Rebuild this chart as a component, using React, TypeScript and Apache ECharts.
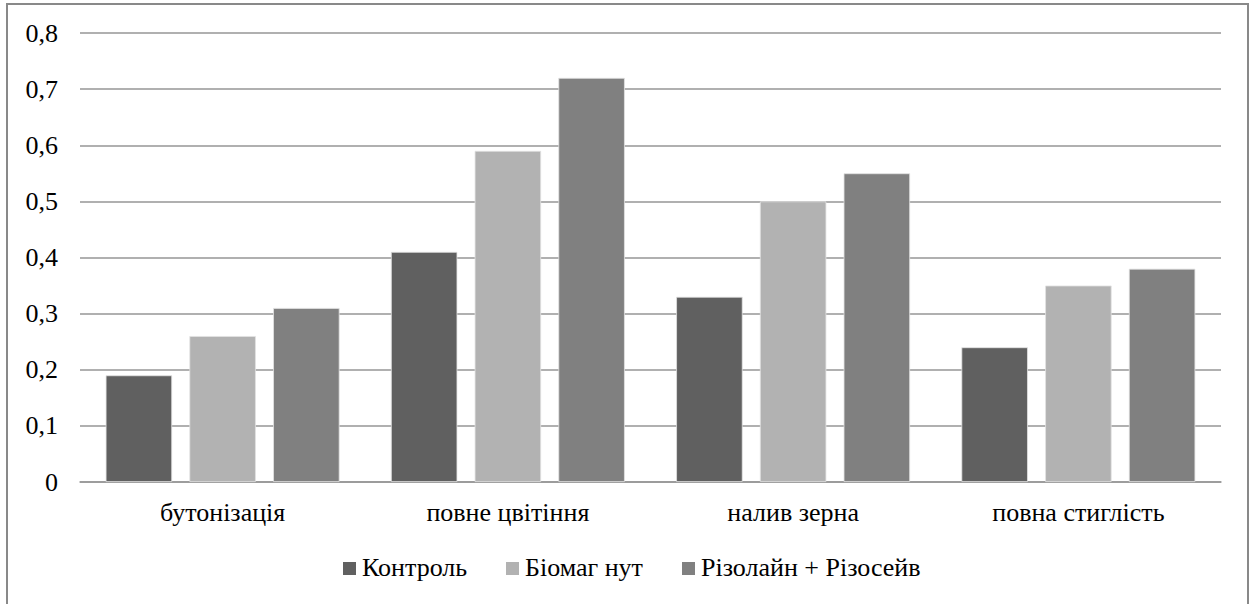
import React, { useEffect, useRef } from "react";
import * as echarts from "echarts";

const categories = ["бутонізація", "повне цвітіння", "налив зерна", "повна стиглість"];
const seriesNames = ["Контроль", "Біомаг нут", "Різолайн + Різосейв"];
const control = [0.19, 0.41, 0.33, 0.24];
const biomag = [0.26, 0.59, 0.5, 0.35];
const rizolain = [0.31, 0.72, 0.55, 0.38];
const yTicks = [0, 0.1, 0.2, 0.3, 0.4, 0.5, 0.6, 0.7, 0.8];
const yTickLabels = ["0", "0,1", "0,2", "0,3", "0,4", "0,5", "0,6", "0,7", "0,8"];
const colors = ["#606060", "#b2b2b2", "#808080"];

const FONT_CSS = "26px Liberation Serif";
const legendSquareX = [343, 506, 682];

const CSS_FIX =
  "body{margin:0} #root svg text, #root svg tspan { font-family: 'Liberation Serif', 'Times New Roman', serif !important; }";

export default function App() {
  const ref = useRef<HTMLDivElement>(null);
  useEffect(() => {
    document.body.style.margin = "0";
    const chart = echarts.init(ref.current!, null, { renderer: "svg" });
    const data = [control, biomag, rizolain];
    chart.setOption({
      animation: false,
      backgroundColor: "#ffffff",
      grid: { left: 80, right: 33, top: 33, bottom: 122, containLabel: false },
      xAxis: {
        type: "category",
        data: categories,
        axisTick: { show: false },
        axisLine: { lineStyle: { color: "#969696", width: 1.5 } },
        axisLabel: { show: false },
      },
      yAxis: {
        type: "value",
        min: 0,
        max: 0.8,
        interval: 0.1,
        axisLine: { show: false },
        axisTick: { show: false },
        splitLine: { lineStyle: { color: "#969696", width: 1.5 } },
        axisLabel: { show: false },
      },
      series: seriesNames.map((name, i) => ({
        name,
        type: "bar",
        data: data[i],
        barGap: "26%",
        barCategoryGap: "18%",
        itemStyle: { color: colors[i], borderColor: "#e2e2e2", borderWidth: 0.8 },
      })),
    });

    const graphics: any[] = [
      {
        type: "rect",
        shape: { x: 7, y: 4, width: 1241, height: 640 },
        style: { fill: "none", stroke: "#898989", lineWidth: 2 },
        silent: true,
        z: 0,
      },
    ];
    yTicks.forEach((v, i) => {
      const y = chart.convertToPixel({ yAxisIndex: 0 }, v) as number;
      graphics.push({
        type: "text",
        x: 58,
        y,
        style: {
          text: yTickLabels[i],
          font: FONT_CSS,
          fill: "#000",
          align: "right",
          verticalAlign: "middle",
        },
      });
    });
    categories.forEach((c, i) => {
      const x = chart.convertToPixel({ xAxisIndex: 0 }, i) as number;
      graphics.push({
        type: "text",
        x,
        y: 512,
        style: {
          text: c,
          font: FONT_CSS,
          fill: "#000",
          align: "center",
          verticalAlign: "middle",
        },
      });
    });
    seriesNames.forEach((n, i) => {
      const sx = legendSquareX[i];
      graphics.push({
        type: "rect",
        shape: { x: sx, y: 562, width: 13, height: 13 },
        style: { fill: colors[i] },
      });
      graphics.push({
        type: "text",
        x: sx + 19,
        y: 567,
        style: {
          text: n,
          font: FONT_CSS,
          fill: "#000",
          align: "left",
          verticalAlign: "middle",
        },
      });
    });
    chart.setOption({ graphic: graphics });
    return () => chart.dispose();
  }, []);
  return (
    <>
      <style>{CSS_FIX}</style>
      <div ref={ref} style={{ width: 1254, height: 604 }} />
    </>
  );
}
